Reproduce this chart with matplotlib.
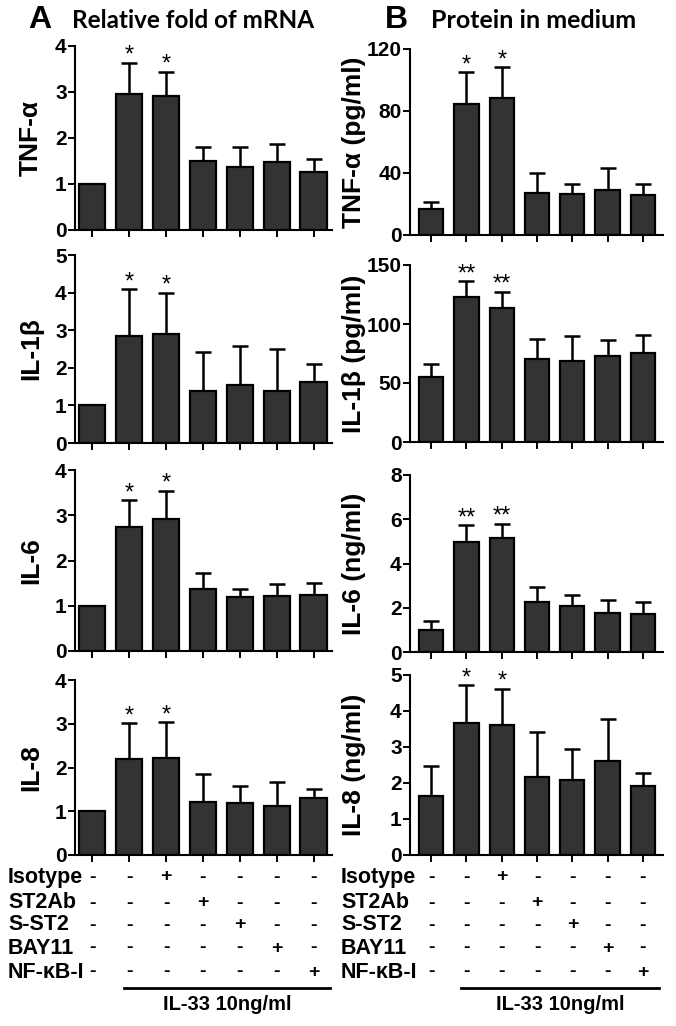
import matplotlib.pyplot as plt
import matplotlib.transforms as mtransforms
import numpy as np

# Relative fold of mRNA (panel A), mean and SEM per group
MRNA_LABELS = ["TNF-α", "IL-1β", "IL-6", "IL-8"]
MRNA_TNF = [1.0, 2.96, 2.91, 1.49, 1.38, 1.47, 1.25]
MRNA_TNF_SEM = [0.0, 0.68, 0.53, 0.32, 0.43, 0.41, 0.29]
MRNA_IL1B = [1.0, 2.85, 2.89, 1.39, 1.55, 1.39, 1.63]
MRNA_IL1B_SEM = [0.0, 1.24, 1.11, 1.03, 1.03, 1.11, 0.47]
MRNA_IL6 = [1.0, 2.73, 2.91, 1.38, 1.20, 1.22, 1.24]
MRNA_IL6_SEM = [0.0, 0.61, 0.63, 0.34, 0.18, 0.25, 0.26]
MRNA_IL8 = [1.0, 2.19, 2.22, 1.22, 1.20, 1.13, 1.30]
MRNA_IL8_SEM = [0.0, 0.83, 0.82, 0.63, 0.37, 0.55, 0.20]

# Protein in medium (panel B)
PROT_LABELS = ["TNF-α (pg/ml)", "IL-1β (pg/ml)", "IL-6 (ng/ml)", "IL-8 (ng/ml)"]
PROT_TNF = [16.6, 84.7, 88.1, 27.0, 26.2, 29.2, 25.5]
PROT_TNF_SEM = [5.0, 20.5, 20.3, 13.2, 6.9, 14.0, 7.6]
PROT_IL1B = [54.9, 123.0, 113.8, 70.1, 68.7, 72.7, 75.2]
PROT_IL1B_SEM = [11.0, 13.3, 13.5, 17.2, 21.4, 13.8, 15.2]
PROT_IL6 = [1.01, 4.96, 5.14, 2.25, 2.10, 1.78, 1.70]
PROT_IL6_SEM = [0.37, 0.76, 0.66, 0.69, 0.48, 0.58, 0.58]
PROT_IL8 = [1.63, 3.67, 3.60, 2.16, 2.07, 2.62, 1.91]
PROT_IL8_SEM = [0.84, 1.05, 1.02, 1.26, 0.88, 1.17, 0.37]

MRNA_YMAX = [4, 5, 4, 4]
MRNA_YSTEP = [1, 1, 1, 1]
PROT_YMAX = [120, 150, 8, 5]
PROT_YSTEP = [40, 50, 2, 1]

MRNA_STARS = ["*", "*", "*", "*"]
PROT_STARS = ["*", "**", "**", "*"]
STAR_BARS = [1, 2]

TREATMENTS = ["Isotype", "ST2Ab", "S-ST2", "BAY11", "NF-κB-I"]
# sign per treatment row (rows) and group (columns)
SIGNS = [
    ["-", "-", "+", "-", "-", "-", "-"],
    ["-", "-", "-", "+", "-", "-", "-"],
    ["-", "-", "-", "-", "+", "-", "-"],
    ["-", "-", "-", "-", "-", "+", "-"],
    ["-", "-", "-", "-", "-", "-", "+"],
]
IL33_TEXT = "IL-33 10ng/ml"

W, H = 676, 1026
BAR_COLOR = "#333333"
FONT = ["Liberation Sans", "DejaVu Sans"]

plt.rcParams["font.family"] = FONT
plt.rcParams["font.weight"] = "bold"
plt.rcParams["axes.linewidth"] = 1.5

fig = plt.figure(figsize=(W / 100, H / 100), dpi=100)


def px_axes(x0, x1, ytop, ybot):
    return fig.add_axes([x0 / W, 1 - ybot / H, (x1 - x0) / W, (ybot - ytop) / H])


def draw_panel(ax, means, sems, ymax, ystep, ylabel, star, xlim, width, labx):
    x = np.arange(len(means))
    ax.bar(x, means, width=width, color=BAR_COLOR, edgecolor="black", linewidth=1.6, zorder=2)
    lower = np.zeros(len(means))
    has_err = np.array(sems) > 0
    ax.errorbar(x[has_err], np.array(means)[has_err],
                yerr=[lower[has_err], np.array(sems)[has_err]],
                fmt="none", ecolor="black", elinewidth=1.8, capsize=5.5, capthick=1.8, zorder=1)
    for i in STAR_BARS:
        ax.annotate(star, (x[i], means[i] + sems[i]), xytext=(0, -3), textcoords="offset points",
                    ha="center", va="bottom", fontsize=17, fontweight="normal")
    ax.set_xlim(*xlim)
    ax.set_ylim(0, ymax)
    ax.set_yticks(np.arange(0, ymax + ystep / 2, ystep))
    ax.set_xticks(x)
    ax.set_xticklabels([])
    ax.spines["top"].set_visible(False)
    ax.spines["right"].set_visible(False)
    ax.tick_params(axis="y", length=5, width=1.4, labelsize=15, pad=1)
    ax.tick_params(axis="x", length=5, width=1.4, direction="out")
    for t in ax.get_yticklabels():
        t.set_fontweight("bold")
    ax.set_ylabel(ylabel, fontsize=19, fontweight="bold")
    ax.yaxis.set_label_coords(labx, 0.5)
    ax.set_facecolor("none")


left_rows = [(46, 230), (255, 443), (470, 651), (680, 855)]
right_rows = [(49, 235), (265, 442), (475, 652), (675, 855)]

mrna = [(MRNA_TNF, MRNA_TNF_SEM), (MRNA_IL1B, MRNA_IL1B_SEM),
        (MRNA_IL6, MRNA_IL6_SEM), (MRNA_IL8, MRNA_IL8_SEM)]
prot = [(PROT_TNF, PROT_TNF_SEM), (PROT_IL1B, PROT_IL1B_SEM),
        (PROT_IL6, PROT_IL6_SEM), (PROT_IL8, PROT_IL8_SEM)]

axes_l, axes_r = [], []
for k in range(4):
    ax = px_axes(75, 332, *left_rows[k])
    draw_panel(ax, mrna[k][0], mrna[k][1], MRNA_YMAX[k], MRNA_YSTEP[k], MRNA_LABELS[k],
               MRNA_STARS[k], (-0.47, 6.5), 0.71, -0.125)
    axes_l.append(ax)
    ax = px_axes(410, 663, *right_rows[k])
    draw_panel(ax, prot[k][0], prot[k][1], PROT_YMAX[k], PROT_YSTEP[k], PROT_LABELS[k],
               PROT_STARS[k], (-0.6, 6.57), 0.69, -0.175)
    axes_r.append(ax)

# headers
fig.text(40 / W, 1 - 20 / H, "A", fontsize=23, fontweight="bold", ha="center", va="center")
fig.text(72 / W, 1 - 20 / H, "Relative fold of mRNA", fontsize=17.5, fontweight="bold",
         family=["Lato", "DejaVu Sans"], ha="left", va="center")
fig.text(396 / W, 1 - 20 / H, "B", fontsize=23, fontweight="bold", ha="center", va="center")
fig.text(431 / W, 1 - 20 / H, "Protein in medium", fontsize=18, fontweight="bold",
         family=["Lato", "DejaVu Sans"], ha="left", va="center")

# treatment table below the bottom panels
row_y = [877, 903, 925, 948, 972]
for ax, lab_x in [(axes_l[-1], 8), (axes_r[-1], 341)]:
    trans = mtransforms.blended_transform_factory(ax.transData, fig.transFigure)
    for r, name in enumerate(TREATMENTS):
        fig.text(lab_x / W, 1 - row_y[r] / H, name, fontsize=15.5, fontweight="bold",
                 ha="left", va="center")
        for c, s in enumerate(SIGNS[r]):
            ax.text(c, 1 - row_y[r] / H, s, transform=trans, fontsize=14, fontweight="bold",
                    ha="center", va="center", clip_on=False)
    ax.plot([0.85, 6.45], [1 - 988 / H, 1 - 988 / H], transform=trans, color="black",
            linewidth=2, clip_on=False)
    ax.text(3.65, 1 - 1005 / H, IL33_TEXT, transform=trans, fontsize=14.5, fontweight="bold",
            ha="center", va="center", clip_on=False)

fig.savefig("out.png", dpi=100)
